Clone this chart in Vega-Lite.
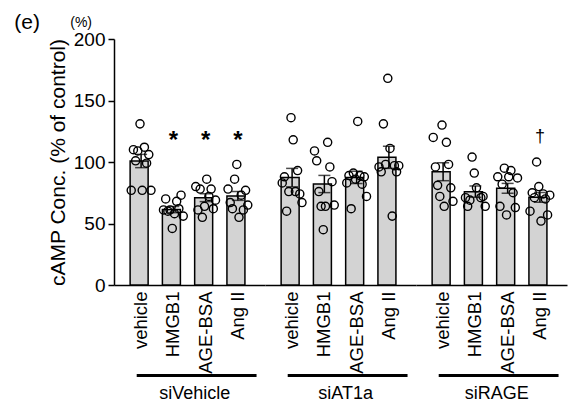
{
  "$schema": "https://vega.github.io/schema/vega-lite/v6.json",
  "padding": {"left": 14, "top": 11, "right": 4, "bottom": 0},
  "bounds": "flush",
  "data": {"values": [
    {"kind":"bar","group":"siVehicle","treatment":"vehicle","mean":100.8,"sem":5.4},
    {"kind":"bar","group":"siVehicle","treatment":"HMGB1","mean":61.3,"sem":2.5,"sig":"*"},
    {"kind":"bar","group":"siVehicle","treatment":"AGE-BSA","mean":71.0,"sem":3.2,"sig":"*"},
    {"kind":"bar","group":"siVehicle","treatment":"Ang II","mean":72.4,"sem":3.6,"sig":"*"},
    {"kind":"bar","group":"siAT1a","treatment":"vehicle","mean":87.3,"sem":7.5},
    {"kind":"bar","group":"siAT1a","treatment":"HMGB1","mean":82.1,"sem":7.0},
    {"kind":"bar","group":"siAT1a","treatment":"AGE-BSA","mean":87.5,"sem":5.0},
    {"kind":"bar","group":"siAT1a","treatment":"Ang II","mean":103.8,"sem":9.0},
    {"kind":"bar","group":"siRAGE","treatment":"vehicle","mean":92.1,"sem":7.3},
    {"kind":"bar","group":"siRAGE","treatment":"HMGB1","mean":75.9,"sem":4.6},
    {"kind":"bar","group":"siRAGE","treatment":"AGE-BSA","mean":78.6,"sem":4.0},
    {"kind":"bar","group":"siRAGE","treatment":"Ang II","mean":71.3,"sem":4.0,"sig":"†"},
    {"kind":"pt","group":"siVehicle","treatment":"vehicle","rep":1,"value":77},
    {"kind":"pt","group":"siVehicle","treatment":"vehicle","rep":2,"value":110},
    {"kind":"pt","group":"siVehicle","treatment":"vehicle","rep":3,"value":101},
    {"kind":"pt","group":"siVehicle","treatment":"vehicle","rep":4,"value":109},
    {"kind":"pt","group":"siVehicle","treatment":"vehicle","rep":5,"value":131},
    {"kind":"pt","group":"siVehicle","treatment":"vehicle","rep":6,"value":77},
    {"kind":"pt","group":"siVehicle","treatment":"vehicle","rep":7,"value":112},
    {"kind":"pt","group":"siVehicle","treatment":"vehicle","rep":8,"value":99},
    {"kind":"pt","group":"siVehicle","treatment":"vehicle","rep":9,"value":106},
    {"kind":"pt","group":"siVehicle","treatment":"vehicle","rep":10,"value":77},
    {"kind":"pt","group":"siVehicle","treatment":"HMGB1","rep":1,"value":61},
    {"kind":"pt","group":"siVehicle","treatment":"HMGB1","rep":2,"value":70},
    {"kind":"pt","group":"siVehicle","treatment":"HMGB1","rep":3,"value":60},
    {"kind":"pt","group":"siVehicle","treatment":"HMGB1","rep":4,"value":61},
    {"kind":"pt","group":"siVehicle","treatment":"HMGB1","rep":5,"value":46},
    {"kind":"pt","group":"siVehicle","treatment":"HMGB1","rep":6,"value":58},
    {"kind":"pt","group":"siVehicle","treatment":"HMGB1","rep":7,"value":68},
    {"kind":"pt","group":"siVehicle","treatment":"HMGB1","rep":8,"value":62},
    {"kind":"pt","group":"siVehicle","treatment":"HMGB1","rep":9,"value":73},
    {"kind":"pt","group":"siVehicle","treatment":"HMGB1","rep":10,"value":56},
    {"kind":"pt","group":"siVehicle","treatment":"AGE-BSA","rep":1,"value":80},
    {"kind":"pt","group":"siVehicle","treatment":"AGE-BSA","rep":2,"value":61},
    {"kind":"pt","group":"siVehicle","treatment":"AGE-BSA","rep":3,"value":78},
    {"kind":"pt","group":"siVehicle","treatment":"AGE-BSA","rep":4,"value":55},
    {"kind":"pt","group":"siVehicle","treatment":"AGE-BSA","rep":5,"value":64},
    {"kind":"pt","group":"siVehicle","treatment":"AGE-BSA","rep":6,"value":86},
    {"kind":"pt","group":"siVehicle","treatment":"AGE-BSA","rep":7,"value":72},
    {"kind":"pt","group":"siVehicle","treatment":"AGE-BSA","rep":8,"value":78},
    {"kind":"pt","group":"siVehicle","treatment":"AGE-BSA","rep":9,"value":62},
    {"kind":"pt","group":"siVehicle","treatment":"AGE-BSA","rep":10,"value":69},
    {"kind":"pt","group":"siVehicle","treatment":"Ang II","rep":1,"value":78},
    {"kind":"pt","group":"siVehicle","treatment":"Ang II","rep":2,"value":67},
    {"kind":"pt","group":"siVehicle","treatment":"Ang II","rep":3,"value":62},
    {"kind":"pt","group":"siVehicle","treatment":"Ang II","rep":4,"value":86},
    {"kind":"pt","group":"siVehicle","treatment":"Ang II","rep":5,"value":98},
    {"kind":"pt","group":"siVehicle","treatment":"Ang II","rep":6,"value":55},
    {"kind":"pt","group":"siVehicle","treatment":"Ang II","rep":7,"value":73},
    {"kind":"pt","group":"siVehicle","treatment":"Ang II","rep":8,"value":61},
    {"kind":"pt","group":"siVehicle","treatment":"Ang II","rep":9,"value":77},
    {"kind":"pt","group":"siVehicle","treatment":"Ang II","rep":10,"value":65},
    {"kind":"pt","group":"siAT1a","treatment":"vehicle","rep":1,"value":83},
    {"kind":"pt","group":"siAT1a","treatment":"vehicle","rep":2,"value":88},
    {"kind":"pt","group":"siAT1a","treatment":"vehicle","rep":3,"value":60},
    {"kind":"pt","group":"siAT1a","treatment":"vehicle","rep":4,"value":76},
    {"kind":"pt","group":"siAT1a","treatment":"vehicle","rep":5,"value":136},
    {"kind":"pt","group":"siAT1a","treatment":"vehicle","rep":6,"value":118},
    {"kind":"pt","group":"siAT1a","treatment":"vehicle","rep":7,"value":76},
    {"kind":"pt","group":"siAT1a","treatment":"vehicle","rep":8,"value":93},
    {"kind":"pt","group":"siAT1a","treatment":"vehicle","rep":9,"value":74},
    {"kind":"pt","group":"siAT1a","treatment":"vehicle","rep":10,"value":67},
    {"kind":"pt","group":"siAT1a","treatment":"HMGB1","rep":1,"value":109},
    {"kind":"pt","group":"siAT1a","treatment":"HMGB1","rep":2,"value":101},
    {"kind":"pt","group":"siAT1a","treatment":"HMGB1","rep":3,"value":76},
    {"kind":"pt","group":"siAT1a","treatment":"HMGB1","rep":4,"value":64},
    {"kind":"pt","group":"siAT1a","treatment":"HMGB1","rep":5,"value":45},
    {"kind":"pt","group":"siAT1a","treatment":"HMGB1","rep":6,"value":64},
    {"kind":"pt","group":"siAT1a","treatment":"HMGB1","rep":7,"value":116},
    {"kind":"pt","group":"siAT1a","treatment":"HMGB1","rep":8,"value":96},
    {"kind":"pt","group":"siAT1a","treatment":"HMGB1","rep":9,"value":84},
    {"kind":"pt","group":"siAT1a","treatment":"HMGB1","rep":10,"value":65},
    {"kind":"pt","group":"siAT1a","treatment":"AGE-BSA","rep":1,"value":83},
    {"kind":"pt","group":"siAT1a","treatment":"AGE-BSA","rep":2,"value":89},
    {"kind":"pt","group":"siAT1a","treatment":"AGE-BSA","rep":3,"value":62},
    {"kind":"pt","group":"siAT1a","treatment":"AGE-BSA","rep":4,"value":91},
    {"kind":"pt","group":"siAT1a","treatment":"AGE-BSA","rep":5,"value":86},
    {"kind":"pt","group":"siAT1a","treatment":"AGE-BSA","rep":6,"value":133},
    {"kind":"pt","group":"siAT1a","treatment":"AGE-BSA","rep":7,"value":89},
    {"kind":"pt","group":"siAT1a","treatment":"AGE-BSA","rep":8,"value":82},
    {"kind":"pt","group":"siAT1a","treatment":"AGE-BSA","rep":9,"value":88},
    {"kind":"pt","group":"siAT1a","treatment":"AGE-BSA","rep":10,"value":72},
    {"kind":"pt","group":"siAT1a","treatment":"Ang II","rep":1,"value":96},
    {"kind":"pt","group":"siAT1a","treatment":"Ang II","rep":2,"value":92},
    {"kind":"pt","group":"siAT1a","treatment":"Ang II","rep":3,"value":131},
    {"kind":"pt","group":"siAT1a","treatment":"Ang II","rep":4,"value":98},
    {"kind":"pt","group":"siAT1a","treatment":"Ang II","rep":5,"value":168},
    {"kind":"pt","group":"siAT1a","treatment":"Ang II","rep":6,"value":111},
    {"kind":"pt","group":"siAT1a","treatment":"Ang II","rep":7,"value":56},
    {"kind":"pt","group":"siAT1a","treatment":"Ang II","rep":8,"value":97},
    {"kind":"pt","group":"siAT1a","treatment":"Ang II","rep":9,"value":92},
    {"kind":"pt","group":"siAT1a","treatment":"Ang II","rep":10,"value":97},
    {"kind":"pt","group":"siRAGE","treatment":"vehicle","rep":1,"value":120},
    {"kind":"pt","group":"siRAGE","treatment":"vehicle","rep":2,"value":96},
    {"kind":"pt","group":"siRAGE","treatment":"vehicle","rep":3,"value":81},
    {"kind":"pt","group":"siRAGE","treatment":"vehicle","rep":4,"value":72},
    {"kind":"pt","group":"siRAGE","treatment":"vehicle","rep":5,"value":130},
    {"kind":"pt","group":"siRAGE","treatment":"vehicle","rep":6,"value":64},
    {"kind":"pt","group":"siRAGE","treatment":"vehicle","rep":7,"value":116},
    {"kind":"pt","group":"siRAGE","treatment":"vehicle","rep":8,"value":98},
    {"kind":"pt","group":"siRAGE","treatment":"vehicle","rep":9,"value":79},
    {"kind":"pt","group":"siRAGE","treatment":"vehicle","rep":10,"value":68},
    {"kind":"pt","group":"siRAGE","treatment":"HMGB1","rep":1,"value":71},
    {"kind":"pt","group":"siRAGE","treatment":"HMGB1","rep":2,"value":64},
    {"kind":"pt","group":"siRAGE","treatment":"HMGB1","rep":3,"value":69},
    {"kind":"pt","group":"siRAGE","treatment":"HMGB1","rep":4,"value":104},
    {"kind":"pt","group":"siRAGE","treatment":"HMGB1","rep":5,"value":91},
    {"kind":"pt","group":"siRAGE","treatment":"HMGB1","rep":6,"value":79},
    {"kind":"pt","group":"siRAGE","treatment":"HMGB1","rep":8,"value":71},
    {"kind":"pt","group":"siRAGE","treatment":"HMGB1","rep":9,"value":72},
    {"kind":"pt","group":"siRAGE","treatment":"HMGB1","rep":10,"value":64},
    {"kind":"pt","group":"siRAGE","treatment":"AGE-BSA","rep":1,"value":88},
    {"kind":"pt","group":"siRAGE","treatment":"AGE-BSA","rep":2,"value":64},
    {"kind":"pt","group":"siRAGE","treatment":"AGE-BSA","rep":3,"value":82},
    {"kind":"pt","group":"siRAGE","treatment":"AGE-BSA","rep":4,"value":95},
    {"kind":"pt","group":"siRAGE","treatment":"AGE-BSA","rep":5,"value":57},
    {"kind":"pt","group":"siRAGE","treatment":"AGE-BSA","rep":6,"value":88},
    {"kind":"pt","group":"siRAGE","treatment":"AGE-BSA","rep":7,"value":93},
    {"kind":"pt","group":"siRAGE","treatment":"AGE-BSA","rep":8,"value":75},
    {"kind":"pt","group":"siRAGE","treatment":"AGE-BSA","rep":9,"value":63},
    {"kind":"pt","group":"siRAGE","treatment":"AGE-BSA","rep":10,"value":87},
    {"kind":"pt","group":"siRAGE","treatment":"Ang II","rep":1,"value":60},
    {"kind":"pt","group":"siRAGE","treatment":"Ang II","rep":2,"value":75},
    {"kind":"pt","group":"siRAGE","treatment":"Ang II","rep":3,"value":71},
    {"kind":"pt","group":"siRAGE","treatment":"Ang II","rep":4,"value":100},
    {"kind":"pt","group":"siRAGE","treatment":"Ang II","rep":5,"value":80},
    {"kind":"pt","group":"siRAGE","treatment":"Ang II","rep":6,"value":52},
    {"kind":"pt","group":"siRAGE","treatment":"Ang II","rep":7,"value":74},
    {"kind":"pt","group":"siRAGE","treatment":"Ang II","rep":8,"value":70},
    {"kind":"pt","group":"siRAGE","treatment":"Ang II","rep":9,"value":57},
    {"kind":"pt","group":"siRAGE","treatment":"Ang II","rep":10,"value":73}
  ]},
  "facet": {
    "column": {
      "field": "group", "type": "nominal",
      "sort": ["siVehicle", "siAT1a", "siRAGE"],
      "header": {"title": null, "labels": false}
    }
  },
  "spacing": 0,
  "spec": {
    "width": 151,
    "height": 246,
    "layer": [
      {
        "transform": [{"filter": "datum.kind === 'bar'"}],
        "mark": {"type": "bar", "fill": "#d3d3d3", "stroke": "black", "strokeWidth": 1.5},
        "encoding": {
          "x": {"field": "treatment", "type": "nominal", "sort": ["vehicle", "HMGB1", "AGE-BSA", "Ang II"],
                "scale": {"paddingInner": 0.32, "paddingOuter": 0.5},
                "axis": {"title": null, "labelAngle": 270, "labelAlign": "right", "labelBaseline": "middle", "ticks": false, "labelPadding": 6, "labelFontSize": 18.5, "domainWidth": 1.5, "domainColor": "black", "labelColor": "black", "grid": false}},
          "y": {"field": "mean", "type": "quantitative", "scale": {"domain": [0, 200], "nice": false}, "title": "cAMP Conc. (% of control)",
                "axis": {"values": [0, 50, 100, 150, 200], "tickSize": 6, "tickWidth": 1.5, "tickColor": "black", "domainWidth": 1.5, "domainColor": "black", "labelFontSize": 19, "labelColor": "black", "labelPadding": 3, "titleFontSize": 21, "titleFontWeight": "normal", "titleColor": "black", "titlePadding": 5, "grid": false}}
        }
      },
      {
        "transform": [{"filter": "datum.kind === 'pt'"}],
        "mark": {"type": "point", "shape": "circle", "filled": false, "stroke": "black", "strokeWidth": 1.4, "size": 66, "opacity": 1},
        "encoding": {
          "x": {"field": "treatment", "type": "nominal", "sort": ["vehicle", "HMGB1", "AGE-BSA", "Ang II"]},
          "xOffset": {"field": "rep", "type": "ordinal"},
          "y": {"field": "value", "type": "quantitative", "title": "cAMP Conc. (% of control)"}
        }
      },
      {
        "transform": [{"filter": "datum.kind === 'bar'"}],
        "mark": {"type": "errorbar", "ticks": {"size": 12, "thickness": 1.5, "color": "black"}, "rule": {"strokeWidth": 1.5, "color": "black"}},
        "encoding": {
          "x": {"field": "treatment", "type": "nominal", "sort": ["vehicle", "HMGB1", "AGE-BSA", "Ang II"]},
          "y": {"field": "mean", "type": "quantitative", "title": "cAMP Conc. (% of control)"},
          "yError": {"field": "sem"}
        }
      },
      {
        "transform": [{"filter": "datum.kind === 'bar' && datum.sig === '*'"}],
        "mark": {"type": "text", "fontSize": 24, "fontWeight": "bold", "font": "Liberation Sans", "baseline": "middle", "color": "black"},
        "encoding": {
          "x": {"field": "treatment", "type": "nominal", "sort": ["vehicle", "HMGB1", "AGE-BSA", "Ang II"]},
          "y": {"datum": 117},
          "text": {"field": "sig"}
        }
      },
      {
        "transform": [{"filter": "datum.kind === 'bar' && datum.sig === '†'"}],
        "mark": {"type": "text", "fontSize": 18, "font": "Liberation Sans", "baseline": "middle", "color": "black"},
        "encoding": {
          "x": {"field": "treatment", "type": "nominal", "sort": ["vehicle", "HMGB1", "AGE-BSA", "Ang II"]},
          "y": {"datum": 120},
          "text": {"field": "sig"}
        }
      },
      {
        "transform": [{"filter": "datum.kind === 'bar' && datum.treatment === 'vehicle'"}],
        "mark": {"type": "rule", "strokeWidth": 3, "color": "black"},
        "encoding": {
          "x": {"datum": "vehicle", "bandPosition": 0.3},
          "x2": {"datum": "Ang II", "bandPosition": 1.35},
          "y": {"datum": -73.5}
        }
      },
      {
        "transform": [{"filter": "datum.kind === 'bar' && datum.treatment === 'vehicle'"}],
        "mark": {"type": "text", "fontSize": 18, "font": "Liberation Sans", "baseline": "middle", "align": "center", "color": "black"},
        "encoding": {
          "x": {"datum": "AGE-BSA", "bandPosition": 0},
          "y": {"datum": -89},
          "text": {"field": "group"}
        }
      },
      {
        "transform": [{"filter": "datum.kind === 'bar' && datum.treatment === 'vehicle' && datum.group === 'siVehicle'"}],
        "mark": {"type": "text", "text": "(%)", "fontSize": 14, "font": "Liberation Sans", "baseline": "middle", "align": "center", "dx": -49, "dy": -16, "color": "black"},
        "encoding": {
          "x": {"datum": "vehicle", "bandPosition": 0},
          "y": {"datum": 200}
        }
      },
      {
        "transform": [{"filter": "datum.kind === 'bar' && datum.treatment === 'vehicle' && datum.group === 'siVehicle'"}],
        "mark": {"type": "text", "text": "(e)", "fontSize": 21, "font": "Liberation Sans", "baseline": "middle", "align": "center", "dx": -103, "dy": -16.5, "color": "black"},
        "encoding": {
          "x": {"datum": "vehicle", "bandPosition": 0},
          "y": {"datum": 200}
        }
      }
    ]
  },
  "config": {
    "view": {"stroke": null},
    "font": "Liberation Sans",
    "axis": {"labelFont": "Liberation Sans", "titleFont": "Liberation Sans"}
  }
}
